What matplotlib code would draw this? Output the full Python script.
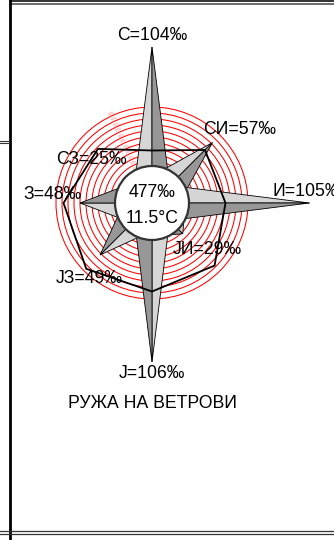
import numpy as np
import matplotlib.pyplot as plt
from matplotlib.patches import Polygon, Circle
from matplotlib.lines import Line2D

plt.rcParams['font.family'] = ['Liberation Sans', 'DejaVu Sans']

# wind rose data (permille of all observations)
directions = ['С', 'СИ', 'И', 'ЈИ', 'Ј', 'ЈЗ', 'З', 'СЗ']
bearings = [0, 45, 90, 135, 180, 225, 270, 315]
frequency = [104, 57, 105, 29, 106, 49, 48, 25]
outline = [35, 50, 49, 59, 59, 62, 59, 51]
ring_values = list(range(4, 68, 4))
total_label = '477‰'
temp_label = '11.5°C'
title = 'РУЖА НА ВЕТРОВИ'

# label offsets from arrow tips, in pixels (right, down)
label_offsets = [(0, -7), (27, -9), (-37, -7), (25, 20), (0, 16), (-11, 28), (-27, -4), (-34, -12)]
label_ha = ['center', 'center', 'left', 'center', 'center', 'center', 'center', 'center']

W, H, DPI = 334, 540, 100
PX = 1.5           # pixels per permille unit
CX, CY = 152, 203  # rose centre in pixels

fig = plt.figure(figsize=(W / DPI, H / DPI), dpi=DPI)
ax = fig.add_axes([0, 0, 1, 1])
ax.set_xlim(-CX / PX, (W - CX) / PX)
ax.set_ylim((CY - H) / PX, CY / PX)
ax.set_aspect('equal')
ax.axis('off')

light, dark = '#d6d6d6', '#979797'

# red scale rings
for v in ring_values:
    ax.add_patch(Circle((0, 0), v, fill=False, ec='red', lw=0.75, zorder=1))
    a = np.radians(114)
    ax.text((v + 1.5) * np.cos(a), (v + 1.5) * np.sin(a), f'{v}‰', fontsize=2.6,
            color='red', alpha=0.45, rotation=24, ha='center', va='center', zorder=1.5)

# arrows
side_r, side_w = 20, 10.7
for b, f in zip(bearings, frequency):
    t = np.radians(b)
    u = np.array([np.sin(t), np.cos(t)])
    p = np.array([-np.cos(t), np.sin(t)])
    tip = f * u
    ccw = side_r * u + side_w * p
    cw = side_r * u - side_w * p
    ax.add_patch(Polygon([(0, 0), tip, ccw], closed=True, fc=light, ec='black', lw=0.6, zorder=2))
    ax.add_patch(Polygon([(0, 0), tip, cw], closed=True, fc=dark, ec='black', lw=0.6, zorder=2))

# outline polygon
ang = np.radians(bearings)
ox = np.array(outline) * np.sin(ang)
oy = np.array(outline) * np.cos(ang)
ax.add_patch(Polygon(np.column_stack([ox, oy]), closed=True, fill=False, ec='black', lw=1.3, zorder=3))

# centre circle
ax.add_patch(Circle((0, 0), 37 / PX, fc='white', ec='#333333', lw=1.6, zorder=4))
ax.text(0, (CY - 197) / PX, total_label, fontsize=12.7, ha='center', va='baseline', zorder=5)
ax.text(0, (CY - 223) / PX, temp_label, fontsize=12.7, ha='center', va='baseline', zorder=5)

# direction labels
for name, b, f, (dx, dy), ha in zip(directions, bearings, frequency, label_offsets, label_ha):
    t = np.radians(b)
    x = f * np.sin(t) + dx / PX
    y = f * np.cos(t) - dy / PX
    ax.text(x, y, f'{name}={f}‰', fontsize=12.7, ha=ha, va='baseline', zorder=5)

ax.text(0, (CY - 408) / PX, title, fontsize=12.7, ha='center', va='baseline', zorder=5)


# frame lines, pixel coordinates
def frame_line(x0, y0, x1, y1, lw, color):
    fig.add_artist(Line2D([x0 / W, x1 / W], [1 - y0 / H, 1 - y1 / H], lw=lw, color=color,
                          transform=fig.transFigure))


frame_line(10, 0.7, W, 0.7, 1.2, '#111111')
frame_line(10, 3.8, W, 3.8, 1.1, '#444444')
frame_line(9.7, 0, 9.7, H, 2.0, 'black')
frame_line(0, 141, 9, 141, 0.8, '#333333')
frame_line(0, 143, 9, 143, 0.8, '#333333')
frame_line(0, 531, W, 531, 0.9, '#333333')
frame_line(0, 533.5, W, 533.5, 0.9, '#333333')

fig.savefig('out.png', dpi=DPI)
